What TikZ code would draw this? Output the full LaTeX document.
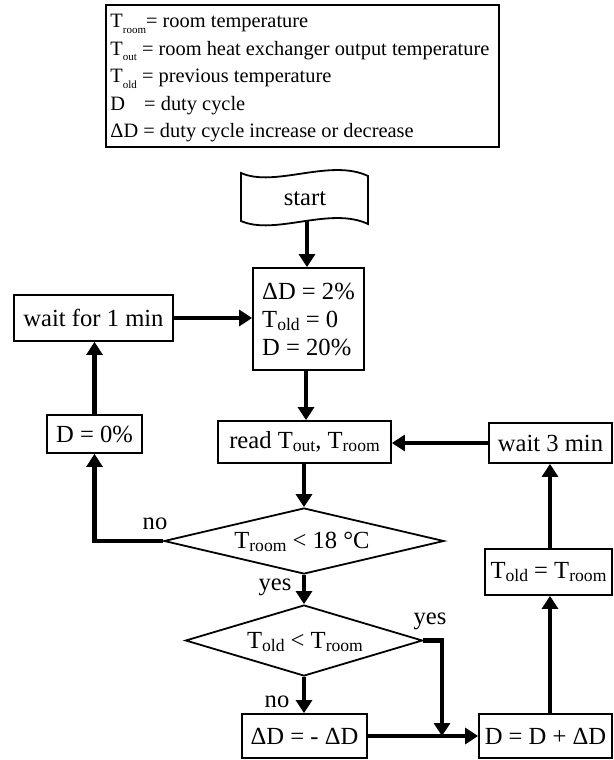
\documentclass[tikz,border=0pt]{standalone}
\usepackage{fontspec}
\setmainfont{Liberation Serif}
\usetikzlibrary{arrows.meta,shapes.geometric}
\newcommand{\lsub}[1]{\raisebox{-0.6ex}{\fontsize{5.5}{5.5}\selectfont #1}}
\newcommand{\fsub}[1]{\raisebox{-1.6pt}{\fontsize{8.8}{8.8}\selectfont #1}}
\begin{document}
\begin{tikzpicture}[x=0.5pt,y=-0.5pt,
  box/.style={draw, line width=0.9pt, inner sep=0pt, font=\fontsize{12.3}{14}\selectfont},
  dia/.style={draw, diamond, line width=0.9pt, inner sep=0pt, aspect=4},
  arr/.style={line width=2.4pt, -{Triangle[length=6.5pt,width=8pt]}},
  lbl/.style={font=\fontsize{12.3}{14}\selectfont, inner sep=0pt},
  leg/.style={font=\fontsize{10.2}{12}\selectfont, inner sep=0pt, anchor=base west}]
\useasboundingbox (0,0) rectangle (614,760);

% legend
\node[draw, line width=0.9pt, minimum width=196.5pt, minimum height=71pt, inner sep=0pt] (legend) at (302.5,76) {};
\node[leg] (l1) at (110,27.5) {T\lsub{room}= room temperature};
\node[leg] (l2) at (110,55) {T\lsub{out} = room heat exchanger output temperature};
\node[leg] (l3) at (110,82.5) {T\lsub{old} = previous temperature};
\node[leg] (l4) at (110,110) {D\hspace{7pt} = duty cycle};
\node[leg] (l5) at (110,137.5) {ΔD = duty cycle increase or decrease};

% start flag
\draw[line width=0.9pt] (241,173) .. controls (275,188) and (330,158) .. (368,176) -- (368,224) .. controls (330,206) and (275,236) .. (241,221) -- cycle;
\node[lbl] (start) at (305,199) {start};
\coordinate (startb) at (307,221);

% boxes
\node[box, minimum width=55.5pt, minimum height=51pt, align=left] (init) at (308.5,319) {ΔD = 2\%\\T\fsub{old} = 0\\D = 20\%};
\node[box, minimum width=79.5pt, minimum height=23pt] (wait1) at (93.5,318) {wait for 1 min};
\node[box, minimum width=47.5pt, minimum height=19pt] (D0) at (94.5,434) {D = 0\%};
\node[box, minimum width=86.5pt, minimum height=21pt] (read) at (304.5,442) {read T\fsub{out}, T\fsub{room}};
\node[box, minimum width=61.5pt, minimum height=20pt] (wait3) at (550.5,443) {wait 3 min};
\node[box, minimum width=63.5pt, minimum height=23pt] (Told) at (548.5,572) {T\fsub{old} = T\fsub{room}};
\node[box, minimum width=62.5pt, minimum height=22pt] (dDneg) at (304.5,736) {ΔD = - ΔD};
\node[box, minimum width=66.5pt, minimum height=22pt] (Dplus) at (545.5,736) {D = D + ΔD};

% decisions
\node[dia, minimum width=140pt, minimum height=33pt] (d1) at (304,541) {};
\node[lbl] (d1t) at (302,542) {T\fsub{room} < 18 °C};
\node[dia, minimum width=118.5pt, minimum height=35.5pt] (d2) at (304,640.5) {};
\node[lbl] (d2t) at (305,642) {T\fsub{old} < T\fsub{room}};

% labels
\node[lbl] (yes1) at (275,587) {yes};
\node[lbl] (no1) at (155,524) {no};
\node[lbl] (yes2) at (430,621) {yes};
\node[lbl] (no2) at (277,702) {no};

\coordinate (cx) at (550,0);
\coordinate (j) at (442,736);

% connectors
\draw[arr] (startb) -- (startb |- init.north);
\draw[arr] ([xshift=-1.25pt]init.south) -- ([xshift=-1.25pt]init.south |- read.north);
\draw[arr] (read.south -| d1.north) -- (d1.north);
\draw[arr] (d1.south) -- (d2.north);
\draw[arr] (d2.south) -- (d2.south |- dDneg.north);
\draw[arr] (d2.east) -| (j);
\draw[arr] (dDneg.east) -- (Dplus.west);
\draw[arr] (Dplus.north -| cx) -- (Told.south -| cx);
\draw[arr] (Told.north -| cx) -- (wait3.south -| cx);
\draw[arr] (wait3.west) -- (wait3.west -| read.east);
\draw[arr] (d1.west) -| (D0.south);
\draw[arr] (D0.north) -- (D0.north |- wait1.south);
\draw[arr] (wait1.east) -- (wait1.east -| init.west);
\end{tikzpicture}
\end{document}
